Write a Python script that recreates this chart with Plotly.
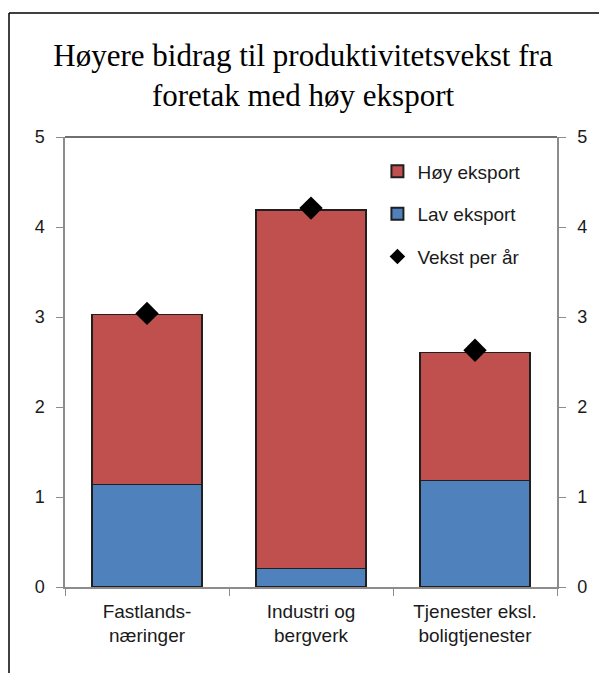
import plotly.graph_objects as go

# Data
categories = ["Fastlands-<br>næringer", "Industri og<br>bergverk", "Tjenester eksl.<br>boligtjenester"]
lav_eksport = [1.14, 0.21, 1.18]
hoy_eksport = [1.89, 3.98, 1.43]
vekst_per_aar = [3.04, 4.21, 2.63]

RED = "#C0504D"
BLUE = "#4F81BD"
AXIS_GREY = "#8C8C8C"

# the page has an 8px body margin, so the figure sits at (8, 8)
L, R, T, B = 57, 58, 129, 94
PW, PH = 607 - L - R, 673 - T - B

fig = go.Figure()

# Stacked bars
fig.add_trace(
    go.Bar(
        x=categories,
        y=lav_eksport,
        name="Lav eksport",
        marker=dict(color=BLUE, line=dict(color="#1F1F1F", width=1.2)),
        width=0.67,
        legendgroup="lav",
        legendrank=2,
    )
)
fig.add_trace(
    go.Bar(
        x=categories,
        y=hoy_eksport,
        name="Høy eksport",
        marker=dict(color=RED, line=dict(color="#1F1F1F", width=1.2)),
        width=0.67,
        legendgroup="hoy",
        legendrank=1,
    )
)
# Growth per year markers
fig.add_trace(
    go.Scatter(
        x=categories,
        y=vekst_per_aar,
        mode="markers",
        name="Vekst per år",
        marker=dict(symbol="diamond", size=18, color="black"),
        legendgroup="vekst",
        legendrank=3,
    )
)

tick_font = dict(family="Liberation Sans, Arial", size=18, color="#1A1A1A")

fig.update_layout(
    width=607,
    height=673,
    barmode="stack",
    paper_bgcolor="white",
    plot_bgcolor="white",
    margin=dict(l=L, r=R, t=T, b=B),
    title=dict(
        text="Høyere bidrag til produktivitetsvekst fra<br>foretak med høy eksport",
        font=dict(family="Liberation Serif, Times New Roman", size=31, color="black"),
        x=(303 - 8) / 607,
        xref="container",
        xanchor="center",
        y=1 - 58 / 673,
        yref="container",
        yanchor="top",
    ),
    xaxis=dict(
        type="category",
        tickson="boundaries",
        ticks="outside",
        ticklen=7,
        tickcolor=AXIS_GREY,
        showline=True,
        linecolor=AXIS_GREY,
        linewidth=1.5,
        showgrid=False,
        tickfont=dict(family="Liberation Sans, Arial", size=19, color="#1A1A1A"),
        ticklabelstandoff=6,
    ),
    yaxis=dict(
        range=[0, 5],
        dtick=1,
        ticks="outside",
        ticklen=7,
        tickcolor=AXIS_GREY,
        showline=True,
        linecolor=AXIS_GREY,
        linewidth=1.5,
        showgrid=False,
        zeroline=False,
        tickfont=tick_font,
        ticklabelstandoff=8,
    ),
    yaxis2=dict(
        range=[0, 5],
        dtick=1,
        overlaying="y",
        side="right",
        ticks="outside",
        ticklen=7,
        tickcolor=AXIS_GREY,
        showline=True,
        linecolor=AXIS_GREY,
        linewidth=1.5,
        showgrid=False,
        zeroline=False,
        tickfont=tick_font,
        ticklabelstandoff=8,
    ),
    legend=dict(
        x=0.635,
        y=0.966,
        xanchor="left",
        yanchor="top",
        traceorder="grouped",
        tracegroupgap=15,
        font=dict(family="Liberation Sans, Arial", size=19, color="#1A1A1A"),
        bgcolor="rgba(0,0,0,0)",
        itemsizing="constant",
    ),
    showlegend=True,
)

# Invisible trace so the right axis is drawn
fig.add_trace(
    go.Scatter(x=categories, y=vekst_per_aar, yaxis="y2", mode="markers",
               marker=dict(opacity=0), showlegend=False, hoverinfo="skip")
)

# Dark top frame of the plot area
fig.add_shape(type="line", xref="paper", yref="paper", x0=0, x1=1, y0=1, y1=1,
              line=dict(color="#404040", width=1.5))

# Outer frame of the figure (top and left edges)
fx = (1 - L) / PW
fy = (673 - B - 5) / PH
fig.add_shape(type="line", xref="paper", yref="paper",
              x0=fx, x1=(610 - L) / PW, y0=fy, y1=fy,
              line=dict(color="black", width=1.5))
fig.add_shape(type="line", xref="paper", yref="paper",
              x0=fx, x1=fx, y0=fy, y1=-(B + 10) / PH,
              line=dict(color="black", width=1.5))

fig.write_html("out.html")
